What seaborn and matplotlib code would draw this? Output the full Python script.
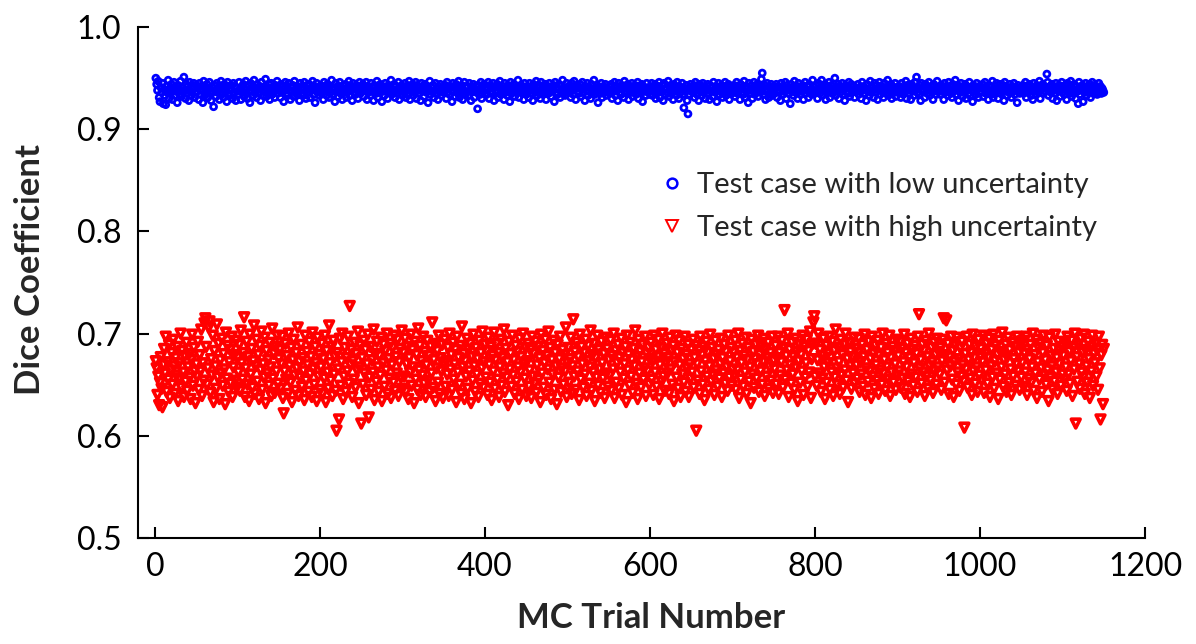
import matplotlib
matplotlib.use('Agg')
import numpy as np
import pandas as pd
import matplotlib.pyplot as plt
from matplotlib.lines import Line2D
import seaborn as sns

# Dice coefficient per MC trial in thousandths (rows of 50 trials)
low_unc_milli = [
950,944,938,947,931,927,941,936,945,925,939,933,924,942,936,948,930,940,935,944,929,938,946,933,941,937,926,943,939,934,947,932,940,936,951,938,930,944,935,942,928,946,937,933,941,939,945,931,936,943,
937,940,929,945,934,942,938,926,947,933,940,936,944,931,939,946,935,928,941,937,922,943,938,932,945,936,940,929,942,947,934,939,931,944,937,941,927,946,935,938,933,943,939,930,945,936,942,928,940,937,
934,946,938,929,941,936,944,932,939,947,935,930,943,938,926,945,937,941,933,948,936,940,931,944,939,935,942,928,946,938,933,941,937,949,932,940,936,944,929,938,945,934,941,937,931,943,939,947,935,940,
938,931,944,936,942,927,940,946,935,939,933,945,938,929,941,937,943,932,947,936,940,934,942,938,928,945,939,935,941,933,946,937,930,943,939,936,944,931,940,938,947,934,942,926,939,945,936,941,933,938,
943,935,940,929,946,937,941,933,944,938,931,942,936,948,939,934,940,927,945,937,942,932,939,946,935,941,929,943,938,936,944,931,940,937,947,933,939,942,928,945,936,940,934,943,938,930,941,946,935,939,
937,944,932,940,938,946,929,942,936,939,933,945,937,941,928,943,938,935,947,931,940,936,944,939,927,942,937,933,945,938,940,930,943,936,941,948,934,939,937,944,931,942,938,935,946,929,940,937,943,933,
940,936,945,931,938,942,934,947,929,941,937,944,933,939,936,946,930,943,938,935,941,928,945,937,940,932,944,938,936,942,926,939,947,934,941,937,943,931,938,945,935,940,929,942,937,944,933,939,936,941,
938,943,930,946,936,940,934,942,938,927,945,937,941,932,944,939,935,947,931,940,937,943,929,938,946,934,941,936,942,933,945,938,928,940,937,944,931,939,942,936,920,943,938,934,946,930,941,937,944,935,
941,934,939,946,930,943,937,940,935,945,928,942,938,936,944,931,940,947,934,939,937,942,929,945,936,940,933,943,938,927,946,935,941,937,944,932,939,936,942,948,931,940,937,943,935,938,929,945,939,934,
937,942,931,945,938,935,941,928,944,939,936,947,933,940,937,943,930,946,938,934,941,936,944,929,939,942,935,945,937,932,940,938,943,927,946,936,941,934,939,944,931,942,937,948,935,940,933,938,945,936,
942,936,939,931,945,938,934,947,940,929,943,937,941,935,944,932,939,946,936,940,928,942,938,945,933,937,941,930,944,939,936,948,934,940,937,943,926,941,938,935,945,931,939,942,936,944,933,940,937,938,
935,941,944,930,939,937,946,933,942,938,928,945,936,940,934,943,939,931,947,937,941,935,944,929,938,942,936,945,932,940,937,943,934,939,946,930,941,938,936,944,927,942,937,940,933,945,939,936,941,934,
939,945,933,941,937,944,930,938,942,936,946,931,940,937,943,928,945,939,934,941,936,947,932,938,943,935,940,929,944,937,941,933,946,938,930,942,936,939,945,934,921,940,937,943,928,915,939,934,944,937,
940,936,943,931,946,938,934,941,928,944,937,939,933,945,936,942,930,940,938,944,935,929,943,937,941,932,946,938,936,942,927,940,945,934,939,937,943,931,941,938,946,933,940,936,944,929,938,942,935,939,
937,943,932,940,946,935,938,941,929,944,936,939,934,947,931,942,937,940,926,945,938,935,943,930,939,946,934,941,937,944,932,938,942,936,949,955,940,934,943,929,937,945,938,931,941,936,944,933,939,942,
935,940,944,931,938,942,936,928,945,939,934,941,937,946,930,943,938,935,940,925,944,937,941,933,947,936,939,942,930,945,938,934,941,937,943,929,940,946,935,938,942,931,944,937,939,934,948,936,941,938,
943,937,930,945,939,935,941,948,933,940,937,944,929,942,938,936,946,931,939,943,935,940,937,950,933,941,938,944,930,942,936,939,945,934,940,928,943,937,941,935,946,932,939,944,936,938,942,931,940,937,
939,944,934,941,937,930,946,938,942,935,940,928,944,937,939,933,947,936,941,938,931,945,939,936,943,929,940,946,934,938,942,937,931,945,939,935,941,948,933,940,937,944,930,942,938,936,945,932,939,941,
936,942,938,931,945,939,934,941,937,947,930,943,938,935,940,929,944,937,941,933,946,938,951,936,940,934,943,928,945,939,937,942,931,944,938,935,940,946,933,939,942,936,929,944,938,940,934,947,937,941,
938,934,943,937,940,929,945,936,941,939,933,946,938,942,935,931,944,937,940,948,934,939,943,928,941,936,945,938,932,940,937,944,930,942,939,935,946,933,941,938,927,943,937,940,934,945,939,931,942,936,
941,937,944,932,939,946,935,940,938,929,943,937,941,934,947,931,939,942,936,945,938,930,940,944,935,939,937,943,928,946,938,941,933,940,936,944,939,931,942,937,945,934,940,938,926,943,939,935,941,937,
937,943,935,940,946,931,939,942,936,944,938,933,941,929,945,937,940,934,943,938,936,947,930,941,939,944,935,942,937,940,954,946,933,939,942,936,944,930,938,941,935,945,928,940,937,943,932,939,946,936,
940,934,943,938,929,945,937,941,935,947,932,939,936,944,938,930,942,937,925,946,934,940,938,943,927,941,936,945,933,939,942,937,944,931,940,946,935,938,943,936,941,934,939,945,937,942,935,940,938,936,
]

high_unc_milli = [
673,666,640,658,630,652,677,646,628,669,685,661,697,643,672,655,689,637,664,681,650,694,668,641,676,659,687,634,671,656,700,647,683,662,638,678,653,691,644,667,680,657,636,674,699,649,686,663,632,670,
658,692,645,679,663,704,639,671,654,710,715,687,650,666,706,712,642,675,659,698,633,683,668,646,709,657,690,636,674,661,695,649,680,665,631,701,656,688,643,672,684,651,697,638,667,679,654,693,647,676,
662,689,644,703,671,655,681,716,638,666,692,650,677,634,699,660,685,647,673,708,641,668,694,653,679,636,688,664,702,645,670,657,696,632,683,661,674,649,691,667,639,705,656,680,642,687,663,698,651,675,
684,646,670,697,637,622,663,690,655,678,641,700,668,652,686,633,674,694,659,644,681,666,706,639,672,657,689,648,676,663,635,698,654,682,669,643,692,660,677,638,701,665,650,687,671,634,696,658,679,645,
667,690,641,675,656,698,633,683,662,646,708,671,654,687,639,693,660,677,644,605,681,665,616,695,649,672,700,636,658,686,643,676,663,697,651,727,669,684,638,673,655,691,647,680,664,702,632,667,688,612,
676,650,693,661,684,640,670,699,618,657,687,645,674,662,704,635,680,653,692,667,643,678,659,696,634,671,689,648,683,664,700,641,675,656,690,637,669,686,652,698,644,677,661,694,639,672,685,657,703,646,
681,658,695,643,670,687,636,676,662,699,649,684,667,632,692,655,679,645,705,664,688,640,673,659,697,651,682,638,669,693,654,678,643,687,661,711,647,674,690,634,666,683,652,698,641,676,663,689,637,671,
694,648,673,660,686,639,700,665,679,645,691,655,670,684,633,697,662,676,650,688,641,707,667,680,636,673,658,695,646,684,663,690,632,677,654,699,668,643,686,660,675,638,693,651,681,666,702,647,672,689,
657,683,640,696,669,652,687,635,678,663,701,646,674,690,655,681,638,667,694,649,676,661,704,643,685,657,672,630,692,665,680,648,698,659,674,641,688,653,682,667,636,695,662,677,645,700,671,656,686,639,
673,690,648,664,684,637,697,658,680,651,692,642,669,687,655,676,633,699,661,683,647,671,694,640,678,665,702,652,686,636,674,660,693,645,681,668,631,689,657,675,697,643,666,684,650,679,663,706,638,671,
686,652,675,696,641,668,714,658,682,645,691,663,677,635,699,655,687,670,647,681,660,694,639,673,688,651,667,703,644,679,662,690,634,676,657,698,649,684,665,642,692,671,656,680,637,696,661,685,648,674,
659,693,644,678,665,700,637,683,652,671,689,646,676,662,695,640,681,656,670,687,633,698,664,679,649,691,658,674,642,685,668,703,651,677,636,694,661,682,647,672,689,655,666,697,639,680,663,686,650,675,
691,655,673,640,698,662,684,648,677,694,636,669,686,653,700,658,680,644,672,690,661,676,641,696,665,683,650,688,634,672,698,657,681,646,693,669,638,685,660,675,652,697,643,679,666,689,638,670,656,684,
662,694,647,676,688,605,670,654,683,641,697,663,679,650,687,635,673,692,658,681,645,668,699,653,686,660,675,640,693,664,679,648,684,656,670,695,638,676,661,689,651,682,667,644,698,657,673,686,649,665,
681,659,693,645,676,664,700,637,683,655,671,690,648,678,662,696,641,674,686,653,667,632,694,660,682,647,675,689,656,670,698,643,679,663,687,650,672,695,639,684,658,676,691,646,667,681,654,697,642,673,
665,688,650,676,697,641,681,659,672,693,647,686,723,655,678,664,700,638,684,669,651,691,660,677,645,695,666,682,634,673,689,652,679,663,698,640,687,657,671,694,648,683,662,702,637,675,690,711,717,658,
690,649,674,700,661,684,643,678,656,695,667,636,688,652,680,671,697,645,676,662,692,639,683,657,704,666,650,686,672,641,694,659,679,647,689,664,700,654,675,633,691,668,682,646,677,661,696,651,685,669,
656,681,695,643,672,660,689,648,677,699,640,666,684,653,692,663,675,637,697,658,680,646,688,669,654,693,641,678,664,686,650,700,661,674,644,690,667,681,655,698,639,676,662,687,652,683,670,645,694,659,
678,663,692,647,685,656,672,699,641,681,667,690,653,676,638,695,660,684,649,671,688,657,680,643,697,719,666,674,651,689,662,683,639,693,658,677,646,700,668,654,686,672,642,691,663,679,650,695,667,682,
660,686,645,673,694,715,652,679,713,664,690,641,677,668,697,655,683,638,672,688,650,696,662,675,644,686,658,692,669,653,608,680,665,697,647,674,689,656,681,640,699,663,676,651,687,667,643,694,659,678,
685,654,672,698,642,680,664,690,651,676,695,638,668,684,657,699,646,673,688,661,679,636,693,655,682,667,701,648,674,660,689,643,677,696,652,684,665,640,691,658,675,687,649,670,697,663,681,645,692,657,
671,693,648,680,662,697,640,684,656,675,689,652,667,700,644,679,661,694,637,672,686,655,690,666,643,681,698,659,674,650,688,664,634,696,657,678,668,645,685,653,699,662,676,641,692,670,683,649,687,660,
678,655,690,667,644,697,660,682,651,673,693,639,686,665,700,612,677,653,689,670,646,695,662,681,657,699,641,684,668,652,692,675,637,687,663,698,649,680,671,690,658,684,645,697,666,616,679,689,631,685,
]

x_ticks = [0, 200, 400, 600, 800, 1000, 1200]
y_ticks = [0.5, 0.6, 0.7, 0.8, 0.9, 1.0]
low_label = 'Test case with low uncertainty'
high_label = 'Test case with high uncertainty'

BLUE = '#0000ff'
RED = '#ff0000'

low_df = pd.DataFrame({'trial': np.arange(1, len(low_unc_milli) + 1),
                       'dice': np.array(low_unc_milli) / 1000})
high_df = pd.DataFrame({'trial': np.arange(1, len(high_unc_milli) + 1),
                        'dice': np.array(high_unc_milli) / 1000})

sns.set_style('ticks')
plt.rcParams['font.family'] = ['Lato', 'DejaVu Sans']

fig, ax = plt.subplots(figsize=(11.96, 6.44), dpi=100)
fig.subplots_adjust(left=0.1154, right=0.9574, bottom=0.1646, top=0.958)

sns.scatterplot(data=high_df, x='trial', y='dice', marker='v', s=40,
                color=RED, facecolor='none', edgecolor=RED, linewidth=2.6,
                ax=ax, legend=False, zorder=3)
sns.scatterplot(data=low_df, x='trial', y='dice', marker='o', s=18,
                color=BLUE, facecolor='none', edgecolor=BLUE, linewidth=2.0,
                ax=ax, legend=False, zorder=4)

ax.set_xlim(-20.6, 1200)
ax.set_ylim(0.5, 1.0)
ax.set_xticks(x_ticks)
ax.set_yticks(y_ticks)
ax.set_yticklabels([f'{v:.1f}' for v in y_ticks])
ax.tick_params(direction='in', length=8, width=1.5, labelsize=23, colors='black')
ax.tick_params(axis='y', pad=12)
ax.tick_params(axis='x', pad=10)
sns.despine(ax=ax)
for side in ['left', 'bottom']:
    ax.spines[side].set_linewidth(1.5)
    ax.spines[side].set_color('black')

ax.set_xlabel('MC Trial Number', fontsize=25, fontweight='bold', labelpad=16)
ax.set_ylabel('Dice Coefficient', fontsize=25, fontweight='bold')
ax.xaxis.set_label_coords(0.509, -0.125)
ax.yaxis.set_label_coords(-0.091, 0.525)

handles = [
    Line2D([], [], linestyle='none', marker='o', markersize=7, markerfacecolor='none',
           markeredgecolor=BLUE, markeredgewidth=1.8),
    Line2D([], [], linestyle='none', marker='v', markersize=9, markerfacecolor='none',
           markeredgecolor=RED, markeredgewidth=1.4),
]
ax.legend(handles, [low_label, high_label], loc='upper left',
          bbox_to_anchor=(0.49, 0.768), frameon=False, fontsize=21,
          handlelength=1.0, handletextpad=0.35, labelspacing=0.6)

plt.savefig('out.png', dpi=100)
plt.close()
